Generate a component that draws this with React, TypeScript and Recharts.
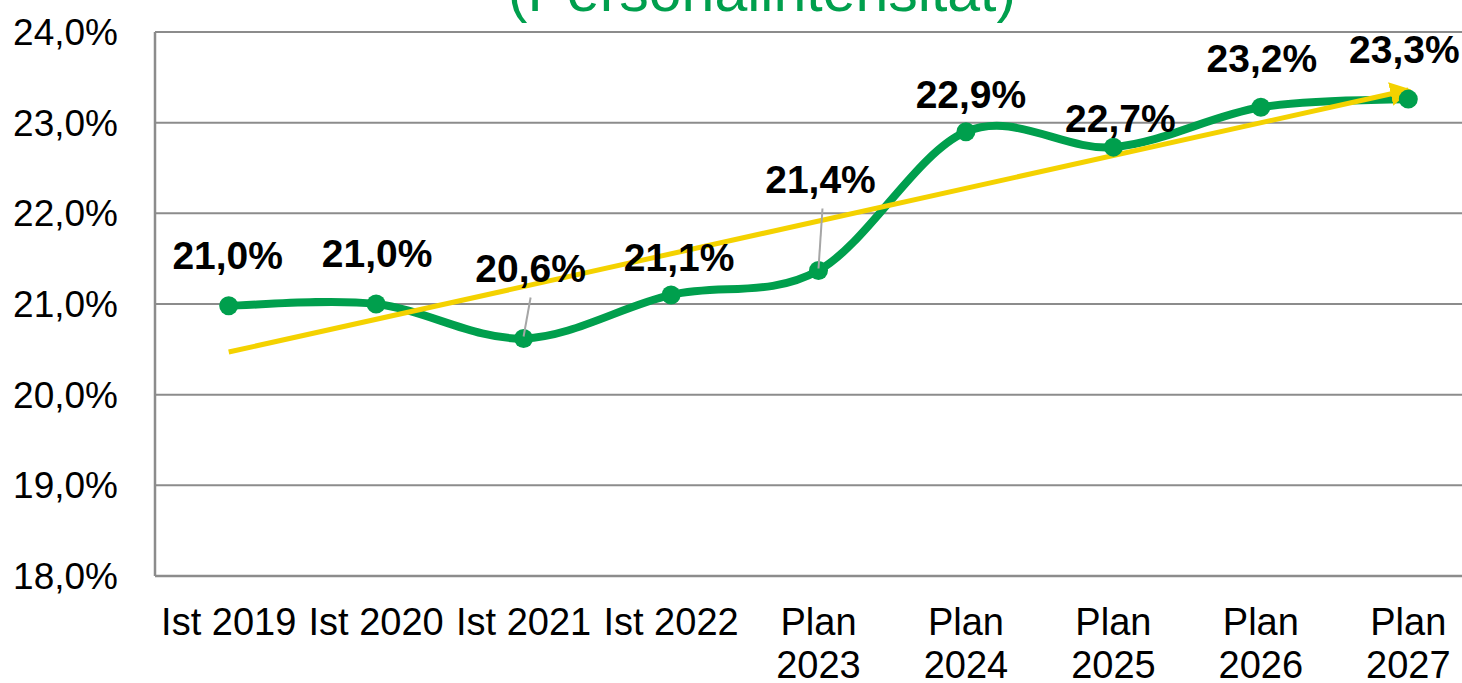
import React from 'react';
import { LineChart, Line, XAxis, YAxis, CartesianGrid, LabelList } from 'recharts';

const categories = ['Ist 2019', 'Ist 2020', 'Ist 2021', 'Ist 2022', 'Plan 2023', 'Plan 2024', 'Plan 2025', 'Plan 2026', 'Plan 2027'];
const quote = [20.98, 21.0, 20.62, 21.1, 21.37, 22.9, 22.73, 23.17, 23.26];
// trend line, only start and end
const trend = [20.47, null, null, null, null, null, null, null, 23.36];
const yTicks = [18, 19, 20, 21, 22, 23, 24];

const GREEN = '#009f4d';
const YELLOW = '#f4d200';
const GRID = '#8c8c8c';
const FONT = '"Liberation Sans", Arial, sans-serif';

// label offsets (center of text relative to the point)
const labelOffsets = [
  [-1, -51], [1, -51], [7, -70], [8, -38], [2, -91], [5, -38], [7, -29], [1, -49], [-4, -50],
];
// leader lines: index -> [dx, dy] of upper end
const leaders: Record<number, [number, number]> = { 2: [7, -41], 4: [4, -62] };

const chartData = categories.map((name, i) => ({ name, quote: quote[i], trend: trend[i] }));

const fmt = (v: number) => v.toFixed(1).replace('.', ',') + '%';

// Excel-like smoothing (Catmull-Rom)
const smooth = (context: any) => {
  let pts: number[][] = [];
  return {
    areaStart() {},
    areaEnd() {},
    lineStart() { pts = []; },
    point(x: number, y: number) { pts.push([+x, +y]); },
    lineEnd() {
      if (!pts.length) return;
      context.moveTo(pts[0][0], pts[0][1]);
      for (let i = 0; i < pts.length - 1; i++) {
        const p0 = pts[i - 1] || pts[i];
        const p1 = pts[i];
        const p2 = pts[i + 1];
        const p3 = pts[i + 2] || p2;
        context.bezierCurveTo(
          p1[0] + (p2[0] - p0[0]) / 6, p1[1] + (p2[1] - p0[1]) / 6,
          p2[0] - (p3[0] - p1[0]) / 6, p2[1] - (p3[1] - p1[1]) / 6,
          p2[0], p2[1]
        );
      }
    },
  };
};

const XTick = (props: any) => {
  const { x, y, payload } = props;
  const v: string = payload.value;
  const lines = v.startsWith('Plan') ? v.split(' ') : [v];
  return (
    <text x={x} y={y} textAnchor="middle" fontSize={38} fontFamily={FONT} fill="#000">
      {lines.map((l, i) => (
        <tspan key={i} x={x} dy={i === 0 ? 59 : 43}>{l}</tspan>
      ))}
    </text>
  );
};

const ValueLabel = (props: any) => {
  const { x, y, value, index } = props;
  const [dx, dy] = labelOffsets[index];
  const lead = leaders[index];
  return (
    <g>
      {lead && (
        <line x1={x + lead[0]} y1={y + lead[1]} x2={x} y2={y - 2} stroke="#a6a6a6" strokeWidth={2} />
      )}
      <text x={x + dx} y={y + dy + 14} textAnchor="middle" fontSize={39} fontWeight="bold" fontFamily={FONT} fill="#000">
        {fmt(value)}
      </text>
    </g>
  );
};

export default function App() {
  return (
    <div style={{ position: 'fixed', left: 0, top: 0, width: 1462, height: 683, overflow: 'hidden', background: '#fff', fontFamily: FONT }}>
      <svg width={1462} height={40} style={{ position: 'absolute', left: 0, top: 0, zIndex: 2 }}>
        <text x={762} y={11} textAnchor="middle" fontSize={59} fontFamily={FONT} fill={GREEN}>(Personalintensität)</text>
      </svg>
      <LineChart width={1490} height={683} data={chartData} margin={{ top: 32, right: 8, bottom: 0, left: 0 }}>
        <defs>
          <marker id="arrowHead" markerUnits="userSpaceOnUse" markerWidth={30} markerHeight={30} refX={18} refY={12} orient="auto">
            <path d="M0,0 L21,12 L0,24 Z" fill={YELLOW} />
          </marker>
        </defs>
        <CartesianGrid vertical={false} stroke={GRID} strokeWidth={2} />
        <XAxis
          dataKey="name"
          interval={0}
          padding={{ left: 73.7, right: 73.7 }}
          tickLine={false}
          tickSize={0}
          tickMargin={0}
          height={107}
          axisLine={{ stroke: GRID, strokeWidth: 2.5 }}
          tick={<XTick />}
        />
        <YAxis
          domain={[18, 24]}
          ticks={yTicks}
          width={155}
          tickLine={false}
          tickSize={0}
          tickMargin={37}
          axisLine={{ stroke: GRID, strokeWidth: 2.5 }}
          tickFormatter={fmt}
          tick={{ fontSize: 37, fill: '#000', fontFamily: FONT }}
        />
        <Line
          dataKey="quote"
          type={smooth as any}
          stroke={GREEN}
          strokeWidth={8}
          dot={{ r: 9.5, fill: GREEN, stroke: GREEN, strokeWidth: 0 }}
          activeDot={false}
          isAnimationActive={false}
        >
          <LabelList dataKey="quote" content={<ValueLabel />} />
        </Line>
        <Line
          dataKey="trend"
          type="linear"
          connectNulls
          stroke={YELLOW}
          strokeWidth={5}
          dot={false}
          activeDot={false}
          markerEnd="url(#arrowHead)"
          isAnimationActive={false}
        />
      </LineChart>
    </div>
  );
}
